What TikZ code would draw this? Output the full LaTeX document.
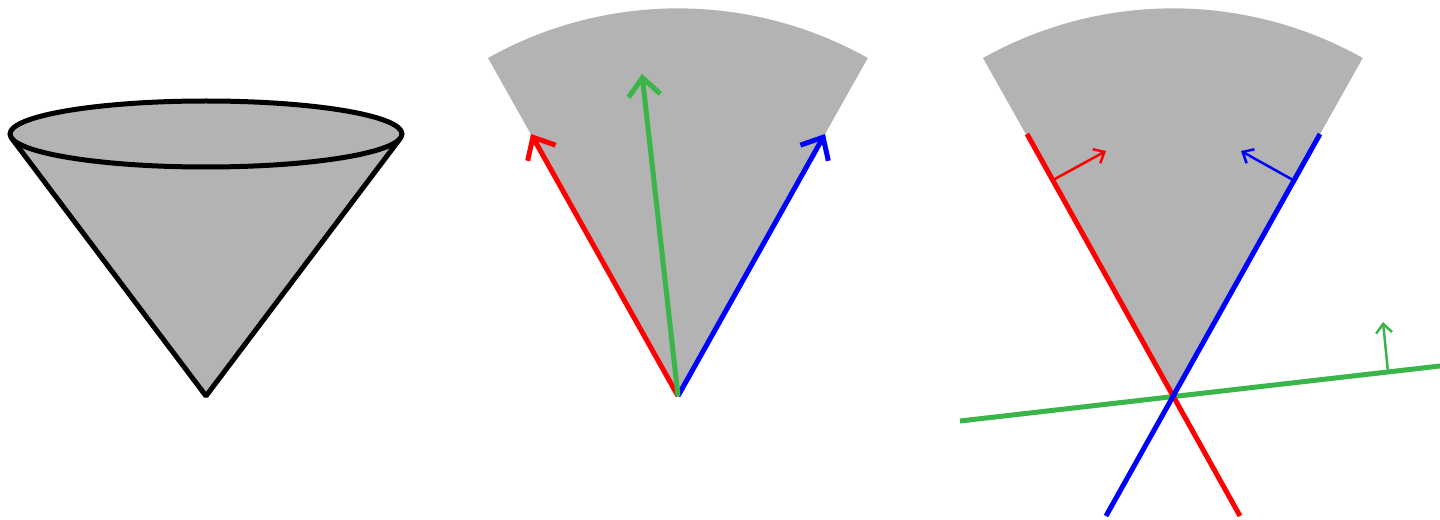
\documentclass[tikz,border=0pt]{standalone}
\usetikzlibrary{arrows.meta}
\definecolor{fillgray}{RGB}{179,179,179}
\definecolor{myred}{RGB}{255,0,0}
\definecolor{myblue}{RGB}{0,0,255}
\definecolor{mygreen}{RGB}{57,181,74}
\tikzset{
  thickline/.style={line width=0.1cm},
  thinline/.style={line width=0.05cm},
  bigtip/.style={-{Straight Barb[length=0.36cm,width=0.64cm,sharp]}},
  smalltip/.style={-{Straight Barb[length=0.18cm,width=0.32cm,sharp]}},
}
\begin{document}
\begin{tikzpicture}[x={(0.02cm,0)},y={(0,-0.02cm)}]
\useasboundingbox (0,0) rectangle (1440,520);
% ---------- panel 1: cone ----------
\coordinate (ctop) at (206,134);
\coordinate (capex) at (206,396);
\coordinate (cl) at (11.6,138.2);
\coordinate (cr) at (400.4,138.2);
\fill[fillgray] (cl) -- (capex) -- (cr) -- cycle;
\draw[thickline, line join=bevel] (cl) -- (capex) -- (cr);
\draw[thickline, fill=fillgray] (ctop) ellipse [x radius=196, y radius=33];
% ---------- panel 2 ----------
\coordinate (apexB) at (678,396);
\fill[fillgray] (apexB) -- (488,58) arc[start angle=240.7, end angle=299.3, radius=388] -- cycle;
\coordinate (rtipB) at (531,134);
\coordinate (gtipB) at (642,74);
\coordinate (btipB) at (825,134);
\draw[myred, thickline, bigtip] (apexB) -- (rtipB);
\draw[myblue, thickline, bigtip] (apexB) -- (btipB);
\draw[mygreen, thickline, bigtip] (apexB) -- (gtipB);
% ---------- panel 3 ----------
\coordinate (apexC) at (1173,396);
\fill[fillgray] (apexC) -- (983,58) arc[start angle=240.7, end angle=299.3, radius=388] -- cycle;
\coordinate (gA) at (960,421);
\coordinate (gB) at (1440,366);
\coordinate (gN0) at (1388,372);
\coordinate (gN1) at (1383,322);
\coordinate (rA) at (1027,134);
\coordinate (rB) at (1240,516);
\coordinate (rN0) at (1053,180);
\coordinate (rN1) at (1106,151);
\coordinate (bA) at (1320,134);
\coordinate (bB) at (1106,516);
\coordinate (bN0) at (1293,180);
\coordinate (bN1) at (1241,151);
\draw[mygreen, thickline] (gA) -- (gB);
\draw[mygreen, thinline, smalltip] (gN0) -- (gN1);
\draw[myred, thickline] (rA) -- (rB);
\draw[myred, thinline, smalltip] (rN0) -- (rN1);
\draw[myblue, thickline] (bA) -- (bB);
\draw[myblue, thinline, smalltip] (bN0) -- (bN1);
\end{tikzpicture}
\end{document}
